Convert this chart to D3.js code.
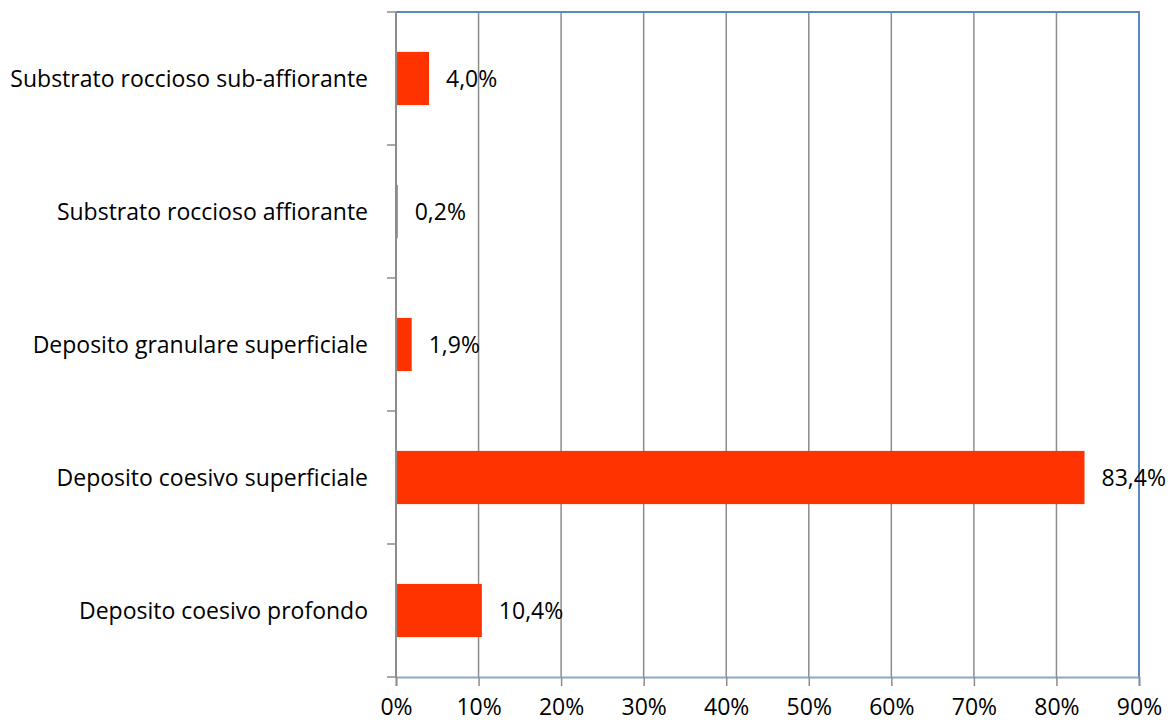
<!DOCTYPE html>
<html><head><meta charset="utf-8">
<script src="https://cdn.jsdelivr.net/npm/d3@7"></script>
<style>body{margin:0;background:#fff}svg{display:block}text{font-family:"Open Sans",sans-serif}</style>
</head><body><svg id="c" width="1170" height="722"></svg>
<script>
const categories = ["Substrato roccioso sub-affiorante","Substrato roccioso affiorante","Deposito granulare superficiale","Deposito coesivo superficiale","Deposito coesivo profondo"];
const values = [4.0, 0.2, 1.9, 83.4, 10.4];
const valueLabels = ["4,0%","0,2%","1,9%","83,4%","10,4%"];
const xTicks = [0,10,20,30,40,50,60,70,80,90];

const FS = 23;
const svg = d3.select("#c");
const L=396, R=1139, T=12, B=677;
const x = d3.scaleLinear().domain([0,90]).range([L,R]);
const y = d3.scaleBand().domain(categories).range([T,B]).paddingInner(0.6).paddingOuter(0.3);
const yb = d3.scaleBand().domain(categories).range([T,B]);

// gridlines
svg.append("g").selectAll("line").data(xTicks.slice(1,-1)).join("line")
  .attr("x1",d=>x(d)).attr("x2",d=>x(d)).attr("y1",T).attr("y2",B)
  .attr("stroke","#8c8c8c").attr("stroke-width",1.5);
// top & right border
svg.append("path").attr("d",`M${L},${T}H${R}V${B}`).attr("fill","none").attr("stroke","#5b87c5").attr("stroke-width",2);

// bars
svg.append("g").selectAll("rect").data(values).join("rect")
  .attr("x",x(0)).attr("y",(d,i)=>y(categories[i])).attr("height",y.bandwidth())
  .attr("width",d=>x(d)-x(0)).attr("fill","#ff3300");

// x axis
const xa = svg.append("g").attr("transform",`translate(0,${B})`)
  .call(d3.axisBottom(x).tickValues(xTicks).tickFormat(d=>d+"%").tickSize(9));
xa.select(".domain").attr("stroke","#8fa6c4").attr("stroke-width",2);
xa.selectAll(".tick line").attr("stroke","#8c8c8c").attr("stroke-width",1.5);
xa.selectAll("text").attr("font-size",FS).attr("fill","#000").attr("y",38).attr("dy",null);

// y axis
const ya = svg.append("g").attr("transform",`translate(${L},0)`)
  .call(d3.axisLeft(yb).tickSize(0).tickPadding(28));
ya.select(".domain").attr("stroke","#8c8c8c").attr("stroke-width",2).attr("d",`M0,${T}V${B}`);
ya.selectAll("text").attr("font-size",FS).attr("fill","#000").attr("dy","0.35em");
// y ticks at band boundaries
svg.append("g").selectAll("line").data(d3.range(categories.length+1)).join("line")
  .attr("x1",L-9).attr("x2",L).attr("y1",i=>T+i*yb.step()).attr("y2",i=>T+i*yb.step())
  .attr("stroke","#8c8c8c").attr("stroke-width",1.5);

// value labels
svg.append("g").selectAll("text").data(values).join("text")
  .attr("x",d=>x(d)+17).attr("y",(d,i)=>y(categories[i])+y.bandwidth()/2).attr("dy","0.35em")
  .attr("font-size",FS).attr("fill","#000").text((d,i)=>valueLabels[i]);
</script></body></html>
